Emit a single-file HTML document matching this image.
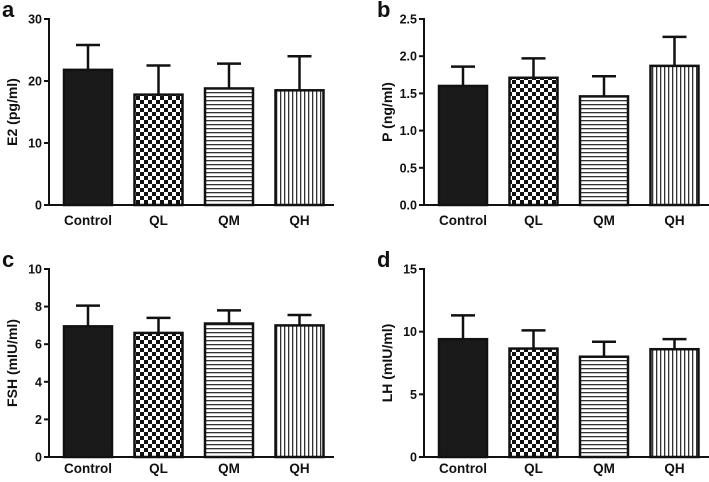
<!DOCTYPE html>
<html><head><meta charset="utf-8"><style>
body{margin:0;background:#fff;}
svg text{font-family:"Liberation Sans",Arial,sans-serif;font-weight:bold;fill:#111;}
</style></head><body>
<svg id="c" width="709" height="477">
<defs>
<pattern id="chk" width="8" height="8" patternUnits="userSpaceOnUse"><rect width="8" height="8" fill="#fff"/><rect width="4" height="4" fill="#111"/><rect x="4" y="4" width="4" height="4" fill="#111"/></pattern>
<pattern id="hor" width="4" height="4" patternUnits="userSpaceOnUse"><rect width="4" height="4" fill="#fff"/><rect y="0" width="4" height="1.3" fill="#333"/></pattern>
<pattern id="ver" width="4" height="4" patternUnits="userSpaceOnUse"><rect width="4" height="4" fill="#fff"/><rect x="0" width="1.3" height="4" fill="#333"/></pattern>
</defs>
</svg>
<script>
const categories=["Control","QL","QM","QH"];
const e2Values=[21.8,17.8,18.8,18.5];
const e2Err=[4.0,4.7,4.0,5.5];
const pValues=[1.6,1.71,1.46,1.87];
const pErr=[0.26,0.26,0.27,0.39];
const fshValues=[6.95,6.6,7.1,7.0];
const fshErr=[1.1,0.8,0.7,0.55];
const lhValues=[9.4,8.65,8.0,8.6];
const lhErr=[1.9,1.45,1.2,0.8];
const e2Ticks=["0","10","20","30"];
const pTicks=["0.0","0.5","1.0","1.5","2.0","2.5"];
const fshTicks=["0","2","4","6","8","10"];
const lhTicks=["0","5","10","15"];
const fills=["#1a1a1a","url(#chk)","url(#hor)","url(#ver)"];
const NS="http://www.w3.org/2000/svg";
const svg=document.getElementById('c');
function mk(t,a,p){const e=document.createElementNS(NS,t);for(const k in a)e.setAttribute(k,a[k]);(p||svg).appendChild(e);return e;}
function panel(letter,ox,top,bot,vals,errs,ticks,ylabel,name,lblOff){
  const g=mk('g',{});
  
  
  const tmin=parseFloat(ticks[0]),tmax=parseFloat(ticks[ticks.length-1]);
  const y=v=>bot-(v-tmin)/(tmax-tmin)*(bot-top);
  const L=mk('text',{x:ox-47,y:top-2,'font-size':22},g);L.textContent=letter;
  
  
  ticks.forEach(t=>{const yy=y(parseFloat(t));
    mk('line',{x1:ox-5,x2:ox,y1:yy,y2:yy,stroke:'#111','stroke-width':2},g);
    const tx=mk('text',{x:ox-7,y:yy+4.5,'font-size':12.5,'text-anchor':'end'},g);tx.textContent=t;
    
    });
  const yl=mk('text',{x:0,y:0,'font-size':14,'text-anchor':'middle',transform:`translate(${ox-32},${(top+bot)/2}) rotate(-90)`},g);yl.textContent=ylabel;
  
  
  vals.forEach((v,i)=>{const x0=ox+15+i*70.5,w=48,xc=x0+w/2;
    const top2=y(v+errs[i]);
    mk('line',{x1:xc,x2:xc,y1:y(v),y2:top2,stroke:'#111','stroke-width':2.5},g);
    mk('line',{x1:xc-12,x2:xc+12,y1:top2,y2:top2,stroke:'#111','stroke-width':2.5},g);
    const b=mk('rect',{x:x0,y:y(v),width:w,height:bot-y(v),fill:fills[i],stroke:'#111','stroke-width':2.5},g);
    
    
    const t=mk('text',{x:xc,y:bot+lblOff,'font-size':13.5,'text-anchor':'middle'},g);t.textContent=categories[i];
    
    });
  mk('line',{x1:ox,x2:ox,y1:top-1,y2:bot,stroke:'#111','stroke-width':2},g);
  mk('line',{x1:ox,x2:ox+285,y1:bot,y2:bot,stroke:'#111','stroke-width':2},g);
}
panel('a',49,19,205,e2Values,e2Err,e2Ticks,'E2 (pg/ml)','panel-e2',20);
panel('b',424,19,205,pValues,pErr,pTicks,'P (ng/ml)','panel-p',20);
panel('c',49,269,457,fshValues,fshErr,fshTicks,'FSH (mIU/ml)','panel-fsh',16);
panel('d',424,269,457,lhValues,lhErr,lhTicks,'LH (mIU/ml)','panel-lh',16);
</script>
</body></html>
